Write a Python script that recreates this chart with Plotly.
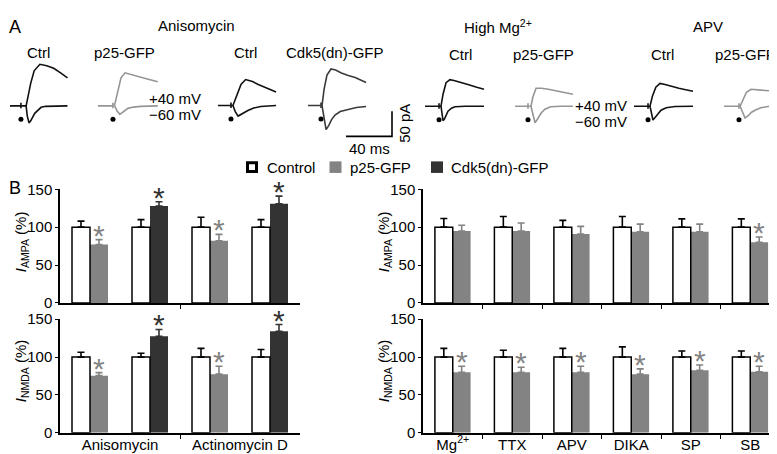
import plotly.graph_objects as go

W, H = 777, 454
FONT = "Liberation Sans, Arial, Helvetica, sans-serif"

# ---------------- Panel B data ----------------
left_pos = [0, 1, 2, 3]
left_labels = ["Anisomycin", "Actinomycin D"]
left_label_pos = [0.5, 2.5]
left_dividers = [1.5]
p25_left_pos = [0, 2]
cdk5_left_pos = [1, 3]

ampa_left_ctrl = [100, 100, 100, 100]
ampa_left_ctrl_err = [8, 10, 13, 10]
ampa_p25_left = [77, 82]
ampa_p25_left_err = [6.5, 8.5]
ampa_cdk5_left = [128, 131]
ampa_cdk5_left_err = [5.5, 10]

nmda_left_ctrl = [100, 100, 100, 100]
nmda_left_ctrl_err = [6.5, 5, 11.5, 10]
nmda_p25_left = [75.5, 77.5]
nmda_p25_left_err = [4, 10.5]
nmda_cdk5_left = [127.5, 134]
nmda_cdk5_left_err = [9, 9]

right_cats = ["Mg<sup>2+</sup>", "TTX", "APV", "DIKA", "SP", "SB"]
right_pos = [0, 1, 2, 3, 4, 5]
right_dividers = [0.5, 1.5, 2.5, 3.5, 4.5]
ampa_right_ctrl = [100, 100, 100, 100, 100, 100]
ampa_right_ctrl_err = [11.5, 14, 9, 14, 11, 11]
ampa_right_p25 = [95, 95, 91, 94, 94, 80]
ampa_right_p25_err = [7.5, 10.5, 10, 10, 10, 7]
ampa_right_sig = [False, False, False, False, False, True]
nmda_right_ctrl = [100, 100, 100, 100, 100, 100]
nmda_right_ctrl_err = [11.5, 9, 11.5, 13.5, 8, 8]
nmda_right_p25 = [80, 80, 80, 77.5, 82.5, 80.5]
nmda_right_p25_err = [8, 6.5, 8, 7, 7, 7.5]
nmda_right_sig = [True, True, True, True, True, True]

y_ticks = [0, 50, 100, 150]

# ---------------- Panel A data (EPSC traces: ms, pA) ----------------
# stimulus times (ms from trace start)
stim_ms = [9.5, 13, 11.3, 11.3, 12.2, 11.3, 12.2, 13]
cell_labels = ["Ctrl", "p25-GFP", "Ctrl", "Cdk5(dn)-GFP", "Ctrl", "p25-GFP", "Ctrl", "p25-GFP"]

c1_up_t = [0, 9.5, 9.5, 9.5, 9.5, 14, 16, 18, 21, 26, 32, 38, 44, 50]
c1_up_i = [0, 0, 6, -5, 0, 0, 25, 45, 70, 83, 80, 75, 66, 56]
c1_dn_t = [14, 15, 16.5, 18, 21.5, 24, 27, 31, 36, 50]
c1_dn_i = [0, -20, -34, -30, -15, -9, -3, -1, -0.5, 0]

c2_up_t = [0, 13, 13, 13, 13, 14.5, 17.5, 20, 23.5, 29, 35, 42, 52]
c2_up_i = [0, 0, 6, -5, 0, 2, 33, 56, 66, 62, 58, 54, 48]
c2_dn_t = [14.5, 16.5, 19, 22, 26, 31, 37, 52]
c2_dn_i = [0, -10, -17, -12, -5, -2.5, -1, 0]

c3_up_t = [0, 11.3, 11.3, 11.3, 11.3, 13, 16.5, 20, 24, 30, 35, 43, 50.5]
c3_up_i = [0, 0, 6, -5, 0, 0, 23, 42, 52, 48, 42, 34, 27]
c3_dn_t = [13, 15, 17.5, 21, 26, 31, 37, 50.5]
c3_dn_i = [0, -12, -21, -16, -10, -5, -2, 0]

c4_up_t = [0, 11.3, 11.3, 11.3, 11.3, 12.2, 14, 16.5, 20, 24, 29, 35, 41, 50.5]
c4_up_i = [0, 0, 6, -5, 0, 0, 33, 61, 73, 71, 65, 60, 56, 46]
c4_dn_t = [12.2, 14, 15.7, 18, 20.5, 23.5, 28, 35, 42, 50.5]
c4_dn_i = [0, -30, -48, -40, -28, -19, -12, -8, -4, -2]

c5_up_t = [0, 12.2, 12.2, 12.2, 12.2, 13.9, 15.7, 18.3, 21.7, 26, 31, 38, 45, 51.3]
c5_up_i = [0, 0, 6, -5, 0, 0, 24, 47, 53, 51, 48, 43, 38, 34]
c5_dn_t = [13.9, 14.8, 15.7, 17, 20, 23, 26, 35, 51.3]
c5_dn_i = [0, -18, -29, -25, -10, -4, -1, 0, 0]

c6_up_t = [0, 11.3, 11.3, 11.3, 11.3, 13.9, 15.5, 18.3, 23, 29, 36, 43, 50.4]
c6_up_i = [0, 0, 6, -5, 0, 0, 18, 36, 36, 34, 31, 27, 24]
c6_dn_t = [13.9, 15.5, 17.4, 19.5, 22.6, 26, 31, 40, 50.4]
c6_dn_i = [0, -18, -33, -26, -14, -6, -1, 0, 0]

c7_up_t = [0, 12.2, 12.2, 12.2, 12.2, 13.9, 16, 19, 22.6, 27, 32, 39, 45, 51.3]
c7_up_i = [0, 0, 6, -5, 0, 0, 20, 38, 45.6, 43.5, 40, 36, 33, 30]
c7_dn_t = [13.9, 15, 16.5, 18.5, 21, 23.5, 28, 35.7, 51.3]
c7_dn_i = [0, -15, -27.5, -22, -14, -8, -3, -0.6, 0]

c8_up_t = [0, 13, 13, 13, 13, 14, 16.5, 19.5, 23.5, 29, 35.7, 44, 53]
c8_up_i = [0, 0, 6, -5, 0, 0, 14, 28, 34, 33, 32, 30, 28]
c8_dn_t = [14, 16, 18.3, 21, 24, 27, 32, 38.3, 53]
c8_dn_i = [0, -12, -23.6, -19, -12, -8, -3, -0.6, 0]

SCALE_MS = 40
SCALE_PA = 50

# ---------------- styles ----------------
BLACK = "#111111"
GRAY_BAR = "#838383"
DARK_BAR = "#333333"
GRAY_TRACE = "#959595"
DARK_TRACE = "#3a3a3a"
BAR_W = 0.3

SX = 1.15   # px per ms
SY = 0.52   # px per pA

def px(x):
    return x / W

def py(y):
    return 1 - y / H

fig = go.Figure()
layout = dict(
    width=W, height=H, margin=dict(l=0, r=0, t=0, b=0),
    paper_bgcolor="white", plot_bgcolor="rgba(0,0,0,0)",
    font=dict(family=FONT, size=15, color="black"),
    showlegend=False, barmode="overlay",
)
annotations = []
shapes = []

def ann(text, x, y, size=15, color="black", xanchor="center", yanchor="middle", angle=0):
    annotations.append(dict(text=text, x=px(x), y=py(y), xref="paper", yref="paper",
                            showarrow=False, font=dict(size=size, color=color, family=FONT),
                            xanchor=xanchor, yanchor=yanchor, textangle=angle))

# ---------------- Panel B axes ----------------
LX = [px(52), px(292)]
RX = [px(415), px(772)]
TOPY = [py(297), py(179)]
BOTY = [py(432), py(314)]

def xax(domain, rng, tickvals, ticktext, minor_vals, anchor, labels):
    return dict(domain=domain, range=rng, anchor=anchor, showline=True, linecolor="black",
                linewidth=1.5, showgrid=False, zeroline=False, tickmode="array",
                tickvals=tickvals, ticktext=ticktext, ticks="", ticklen=0,
                ticklabelstandoff=-3, showticklabels=labels,
                tickfont=dict(size=15, color="black", family=FONT),
                minor=dict(tickmode="array", tickvals=minor_vals, ticks="outside",
                           ticklen=4, tickwidth=1, tickcolor="black", showgrid=False),
                fixedrange=True)

def yax(domain, anchor):
    return dict(domain=domain, range=[0, 150], anchor=anchor, showline=True, linecolor="black",
                linewidth=1.5, showgrid=False, zeroline=False, tickmode="array",
                tickvals=y_ticks, ticks="outside", ticklen=3, tickwidth=1, tickcolor="black",
                tickfont=dict(size=15, color="black", family=FONT), fixedrange=True)

layout["xaxis"] = xax(LX, [-0.5, 3.5], left_label_pos, left_labels, left_dividers, "y", False)
layout["yaxis"] = yax(TOPY, "x")
layout["xaxis2"] = xax(LX, [-0.5, 3.5], left_label_pos, left_labels, left_dividers, "y2", True)
layout["yaxis2"] = yax(BOTY, "x2")
layout["xaxis3"] = xax(RX, [-0.5, 5.5], right_pos, right_cats, right_dividers, "y3", False)
layout["yaxis3"] = yax(TOPY, "x3")
layout["xaxis4"] = xax(RX, [-0.5, 5.5], right_pos, right_cats, right_dividers, "y4", True)
layout["yaxis4"] = yax(BOTY, "x4")

def bars(xs, ys, errs, fill, outline, ecolor, offset, xa, ya):
    fig.add_trace(go.Bar(
        x=xs, y=ys, width=[BAR_W] * len(xs), offset=offset,
        marker=dict(color=fill, line=dict(color=outline or fill, width=1.5 if outline else 0)),
        error_y=dict(type="data", array=errs, arrayminus=[0] * len(errs), symmetric=False,
                     color=ecolor, thickness=1.6, width=3.5),
        xaxis=xa, yaxis=ya, showlegend=False, hoverinfo="skip"))

def stars(xs, ys, errs, sig, color, xa, ya):
    for x, y, e, s in zip(xs, ys, errs, sig):
        if s:
            annotations.append(dict(text="*", x=x + BAR_W / 2, y=y + e, xref=xa, yref=ya,
                                    showarrow=False, yanchor="bottom", yshift=-14,
                                    font=dict(size=30, color=color, family=FONT)))

# left top (AMPA)
bars(p25_left_pos, ampa_p25_left, ampa_p25_left_err, GRAY_BAR, None, GRAY_BAR, 0, "x", "y")
bars(cdk5_left_pos, ampa_cdk5_left, ampa_cdk5_left_err, DARK_BAR, None, DARK_BAR, 0, "x", "y")
bars(left_pos, ampa_left_ctrl, ampa_left_ctrl_err, "white", "black", "black", -BAR_W, "x", "y")
stars(p25_left_pos, ampa_p25_left, ampa_p25_left_err, [True, True], GRAY_BAR, "x", "y")
stars(cdk5_left_pos, ampa_cdk5_left, ampa_cdk5_left_err, [True, True], DARK_BAR, "x", "y")
# left bottom (NMDA)
bars(p25_left_pos, nmda_p25_left, nmda_p25_left_err, GRAY_BAR, None, GRAY_BAR, 0, "x2", "y2")
bars(cdk5_left_pos, nmda_cdk5_left, nmda_cdk5_left_err, DARK_BAR, None, DARK_BAR, 0, "x2", "y2")
bars(left_pos, nmda_left_ctrl, nmda_left_ctrl_err, "white", "black", "black", -BAR_W, "x2", "y2")
stars(p25_left_pos, nmda_p25_left, nmda_p25_left_err, [True, True], GRAY_BAR, "x2", "y2")
stars(cdk5_left_pos, nmda_cdk5_left, nmda_cdk5_left_err, [True, True], DARK_BAR, "x2", "y2")
# right top (AMPA)
bars(right_pos, ampa_right_p25, ampa_right_p25_err, GRAY_BAR, None, GRAY_BAR, 0, "x3", "y3")
bars(right_pos, ampa_right_ctrl, ampa_right_ctrl_err, "white", "black", "black", -BAR_W, "x3", "y3")
stars(right_pos, ampa_right_p25, ampa_right_p25_err, ampa_right_sig, GRAY_BAR, "x3", "y3")
# right bottom (NMDA)
bars(right_pos, nmda_right_p25, nmda_right_p25_err, GRAY_BAR, None, GRAY_BAR, 0, "x4", "y4")
bars(right_pos, nmda_right_ctrl, nmda_right_ctrl_err, "white", "black", "black", -BAR_W, "x4", "y4")
stars(right_pos, nmda_right_p25, nmda_right_p25_err, nmda_right_sig, GRAY_BAR, "x4", "y4")

# y titles
ann("<i>I</i><sub>AMPA</sub> (%)", 13, 234, angle=-90)
ann("<i>I</i><sub>NMDA</sub> (%)", 13, 368, angle=-90)
ann("<i>I</i><sub>AMPA</sub> (%)", 376, 234, angle=-90)
ann("<i>I</i><sub>NMDA</sub> (%)", 376, 368, angle=-90)
ann("B", 7, 178, size=18)

# ---------------- Panel A: traces ----------------
cells = [
    (2, 92.3, BLACK, c1_up_t, c1_up_i, c1_dn_t, c1_dn_i),
    (90, 92.3, GRAY_TRACE, c2_up_t, c2_up_i, c2_dn_t, c2_dn_i),
    (210, 92.0, BLACK, c3_up_t, c3_up_i, c3_dn_t, c3_dn_i),
    (300, 92.0, DARK_TRACE, c4_up_t, c4_up_i, c4_dn_t, c4_dn_i),
    (417, 92.7, BLACK, c5_up_t, c5_up_i, c5_dn_t, c5_dn_i),
    (507, 92.7, GRAY_TRACE, c6_up_t, c6_up_i, c6_dn_t, c6_dn_i),
    (626, 92.7, BLACK, c7_up_t, c7_up_i, c7_dn_t, c7_dn_i),
    (716, 92.7, GRAY_TRACE, c8_up_t, c8_up_i, c8_dn_t, c8_dn_i),
]
DOT_PA = -27
T_LO, T_HI, I_LO, I_HI = -3, 56, -60, 100

def cell_axes(idx, x0, base, t_lo, t_hi, i_lo, i_hi):
    xl = max(x0 + t_lo * SX, 0)
    xr = min(x0 + t_hi * SX, W)
    t_lo_eff = (xl - x0) / SX
    t_hi_eff = (xr - x0) / SX
    yt = base - i_hi * SY
    yb = base - i_lo * SY
    layout[f"xaxis{idx}"] = dict(domain=[px(xl), px(xr)], range=[t_lo_eff, t_hi_eff], visible=False,
                                 anchor=f"y{idx}", fixedrange=True)
    layout[f"yaxis{idx}"] = dict(domain=[py(yb), py(yt)], range=[i_lo, i_hi], visible=False,
                                 anchor=f"x{idx}", fixedrange=True)

for k, (x0, base, col, ut, ui, dt, di) in enumerate(cells):
    idx = 5 + k
    cell_axes(idx, x0, base, T_LO, T_HI, I_LO, I_HI)
    xa, ya = f"x{idx}", f"y{idx}"
    fig.add_trace(go.Scatter(x=ut, y=ui, mode="lines", line=dict(color=col, width=1.6),
                             xaxis=xa, yaxis=ya, hoverinfo="skip"))
    fig.add_trace(go.Scatter(x=dt, y=di, mode="lines", line=dict(color=col, width=1.6),
                             xaxis=xa, yaxis=ya, hoverinfo="skip"))
    fig.add_trace(go.Scatter(x=[stim_ms[k]], y=[DOT_PA], mode="markers",
                             marker=dict(color="black", size=5), xaxis=xa, yaxis=ya,
                             hoverinfo="skip"))

# scale bar cell
SB_IDX = 13
cell_axes(SB_IDX, 338, 124, -4, 44, -10, 60)
fig.add_trace(go.Scatter(x=[0, SCALE_MS, SCALE_MS], y=[0, 0, SCALE_PA], mode="lines",
                         line=dict(color="black", width=1.6), xaxis="x13", yaxis="y13",
                         hoverinfo="skip"))
annotations.append(dict(text=f"{SCALE_MS} ms", x=SCALE_MS / 2, y=0, xref="x13", yref="y13",
                        showarrow=False, yanchor="top", yshift=-2,
                        font=dict(size=15, color="black", family=FONT)))
annotations.append(dict(text=f"{SCALE_PA} pA", x=SCALE_MS, y=SCALE_PA / 2, xref="x13", yref="y13",
                        showarrow=False, xanchor="center", xshift=13, textangle=-90,
                        font=dict(size=15, color="black", family=FONT)))

# Panel A texts
ann("A", 7, 10, size=18)
ann("Anisomycin", 188, 9)
ann("High Mg<sup>2+</sup>", 490, 10)
ann("APV", 700, 10)
label_x = [30, 116, 238, 327, 452, 535, 654, 737]
label_y = [37, 37, 37, 37, 39, 39, 39, 39]
for t, x, y in zip(cell_labels, label_x, label_y):
    ann(t, x, y)
ann("+40 mV", 195, 84.5, xanchor="right")
ann("\u221260 mV", 195, 101.5, xanchor="right")
ann("+40 mV", 621, 91.5, xanchor="right")
ann("\u221260 mV", 621, 108.5, xanchor="right")

# legend (manual)
LEG_Y = 156
legend_items = [("Control", "white", 244, 257), ("p25-GFP", GRAY_BAR, 327.5, 340),
                ("Cdk5(dn)-GFP", DARK_BAR, 429, 441)]
for name, fill, cx, tx in legend_items:
    if fill == "white":
        shapes.append(dict(type="rect", xref="paper", yref="paper",
                           x0=px(cx - 4.5), x1=px(cx + 4.5), y0=py(LEG_Y + 4.5), y1=py(LEG_Y - 4.5),
                           line=dict(color="black", width=3), fillcolor="white"))
    else:
        shapes.append(dict(type="rect", xref="paper", yref="paper",
                           x0=px(cx - 6), x1=px(cx + 6), y0=py(LEG_Y + 6), y1=py(LEG_Y - 6),
                           line=dict(width=0), fillcolor=fill))
    ann(name, tx, LEG_Y, xanchor="left")

layout["annotations"] = annotations
layout["shapes"] = shapes
fig.update_layout(**layout)
fig.write_html("out.html")
